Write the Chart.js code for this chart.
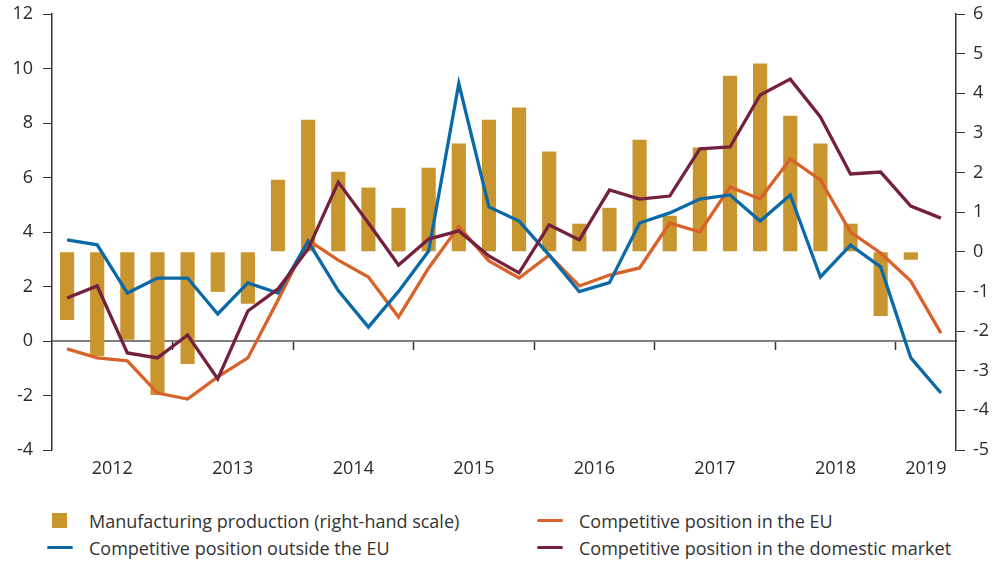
<!DOCTYPE html>
<html>
<head>
<meta charset="utf-8">
<script src="https://cdn.jsdelivr.net/npm/chart.js@4/dist/chart.umd.min.js"></script>
<style>
  body { margin: 0; background: #fff; font-family: "Open Sans", sans-serif; }
  #wrap { position: relative; width: 998px; height: 490px; }
  #legend {
    position: absolute; left: 0; top: 510px; width: 998px;
    display: grid; grid-template-columns: 500px 460px; row-gap: 6px;
    font-size: 18px; color: #333;
  }
  .item { display: flex; align-items: center; height: 21px; }
  .mark { display: inline-block; }
  .col1 { padding-left: 47px; }
  .col2 { padding-left: 37px; }
</style>
</head>
<body>
<div id="wrap"><canvas id="chart"></canvas></div>
<div id="legend"></div>
<script>
// Categories (quarters) and year labels
const quarters = [
  "2012 Q1", "2012 Q2", "2012 Q3", "2012 Q4",
  "2013 Q1", "2013 Q2", "2013 Q3", "2013 Q4",
  "2014 Q1", "2014 Q2", "2014 Q3", "2014 Q4",
  "2015 Q1", "2015 Q2", "2015 Q3", "2015 Q4",
  "2016 Q1", "2016 Q2", "2016 Q3", "2016 Q4",
  "2017 Q1", "2017 Q2", "2017 Q3", "2017 Q4",
  "2018 Q1", "2018 Q2", "2018 Q3", "2018 Q4",
  "2019 Q1", "2019 Q2",
];
const years = ["2012", "2013", "2014", "2015", "2016", "2017", "2018", "2019"];
const yearCenters = [1.5, 5.5, 9.5, 13.5, 17.5, 21.5, 25.5, 28.5];

// Series
const manufacturing = [
  -1.72, -2.63, -2.22, -3.61, -2.83, -1.01, -1.31, 1.82,
  3.33, 2.02, 1.62, 1.11, 2.12, 2.73, 3.33, 3.64,
  2.53, 0.71, 1.11, 2.83, 0.91, 2.63, 4.44, 4.75,
  3.43, 2.73, 0.71, -1.62, -0.2, null,
];
const outsideEU = [
  3.71, 3.53, 1.76, 2.31, 2.31, 0.99, 2.13, 1.76,
  3.65, 1.85, 0.51, 1.82, 3.3, 9.45, 4.92, 4.4,
  3.15, 1.81, 2.14, 4.33, 4.7, 5.21, 5.36, 4.4,
  5.36, 2.35, 3.52, 2.72, -0.62, -1.91,
];
const inEU = [
  -0.29, -0.62, -0.73, -1.91, -2.13, -1.32, -0.62, 1.5,
  3.7, 2.97, 2.35, 0.88, 2.68, 4.2, 2.94, 2.31,
  3.15, 2.02, 2.42, 2.68, 4.33, 4.0, 5.65, 5.21,
  6.68, 5.91, 4.0, 3.23, 2.2, 0.29,
];
const domestic = [
  1.58, 2.02, -0.44, -0.62, 0.22, -1.39, 1.1, 1.91,
  3.38, 5.83, 4.33, 2.79, 3.74, 4.04, 3.12, 2.5,
  4.26, 3.71, 5.54, 5.21, 5.32, 7.05, 7.12, 9.03,
  9.61, 8.22, 6.13, 6.2, 4.95, 4.51,
];

const colors = {
  bar: "#c9952e",
  outside: "#0a6aa8",
  inEU: "#d9622b",
  domestic: "#74213e",
};

const tickFont = { family: "Open Sans", size: 18 };

const lineSet = (label, data, color) => ({
  type: "line",
  label,
  data,
  borderColor: color,
  backgroundColor: color,
  borderWidth: 3.3,
  pointRadius: 0,
  tension: 0,
  yAxisID: "y",
  xAxisID: "x",
});

const datasets = [
  {
    type: "bar",
    label: "Manufacturing production (right-hand scale)",
    data: manufacturing,
    backgroundColor: colors.bar,
    barPercentage: 0.47,
    categoryPercentage: 1,
    yAxisID: "y1",
    xAxisID: "x",
    order: 4,
  },
  { ...lineSet("Competitive position outside the EU", outsideEU, colors.outside), order: 2 },
  { ...lineSet("Competitive position in the EU", inEU, colors.inEU), order: 3 },
  { ...lineSet("Competitive position in the domestic market", domestic, colors.domestic), order: 1 },
];

// keep tick label overflow from pushing the plot area around
const noPad = (s) => {
  s.paddingTop = 0;
  s.paddingBottom = 0;
  s.paddingLeft = 0;
  s.paddingRight = 0;
};

new Chart(document.getElementById("chart"), {
  data: { labels: quarters, datasets },
  options: {
    responsive: true,
    maintainAspectRatio: false,
    animation: false,
    layout: { padding: { top: 14, bottom: 0, left: 0, right: 0 } },
    plugins: { legend: { display: false }, tooltip: { enabled: false } },
    scales: {
      // quarter axis drawn on the zero line, ticks only at year boundaries
      x: {
        type: "category",
        position: { y: 0 },
        offset: true,
        ticks: { display: false },
        grid: {
          offset: true,
          drawOnChartArea: false,
          tickLength: 8,
          tickWidth: 1.5,
          color: (ctx) => (ctx.index % 4 === 0 && ctx.index > 0 ? "#333" : "transparent"),
        },
        border: { color: "#808080", width: 2 },
        afterFit: (s) => {
          s.height = 0;
          noPad(s);
        },
      },
      // year labels at the bottom
      x2: {
        type: "linear",
        position: "bottom",
        min: -0.5,
        max: 29.5,
        afterBuildTicks: (s) => {
          s.ticks = yearCenters.map((v) => ({ value: v }));
        },
        afterFit: (s) => {
          s.height = 40;
          noPad(s);
        },
        ticks: {
          font: tickFont,
          color: "#2a2a2a",
          padding: 8,
          autoSkip: false,
          maxRotation: 0,
          callback: (v, i) => years[i],
        },
        grid: { display: false, drawTicks: false },
        border: { display: false },
      },
      y: {
        position: "left",
        min: -4,
        max: 12,
        ticks: { stepSize: 2, font: tickFont, color: "#2a2a2a", padding: 10 },
        grid: { drawOnChartArea: false, tickLength: 9, color: "#333" },
        border: { color: "#333", width: 1.5 },
        afterFit: (s) => {
          s.width = 52;
          noPad(s);
        },
      },
      y1: {
        position: "right",
        min: -5,
        max: 6,
        ticks: { stepSize: 1, font: tickFont, color: "#2a2a2a", padding: 8 },
        grid: { drawOnChartArea: false, tickLength: 9, color: "#333" },
        border: { color: "#333", width: 1.5 },
        afterFit: (s) => {
          s.width = 42;
          noPad(s);
        },
      },
    },
  },
});

// HTML legend, two columns like the original
const legendItems = [
  { label: datasets[0].label, color: colors.bar, kind: "box", col: 1 },
  { label: datasets[2].label, color: colors.inEU, kind: "line", col: 2 },
  { label: datasets[1].label, color: colors.outside, kind: "line", col: 1 },
  { label: datasets[3].label, color: colors.domestic, kind: "line", col: 2 },
];
document.getElementById("legend").innerHTML = legendItems
  .map((it) => {
    const mark =
      it.kind === "box"
        ? `<span class="mark" style="width:15px;height:15px;background:${it.color};margin-left:5px;margin-right:22px"></span>`
        : `<span class="mark" style="width:26px;height:3px;border-radius:2px;background:${it.color};margin-right:16px"></span>`;
    return `<div class="item col${it.col}">${mark}<span>${it.label}</span></div>`;
  })
  .join("");
</script>
</body>
</html>
